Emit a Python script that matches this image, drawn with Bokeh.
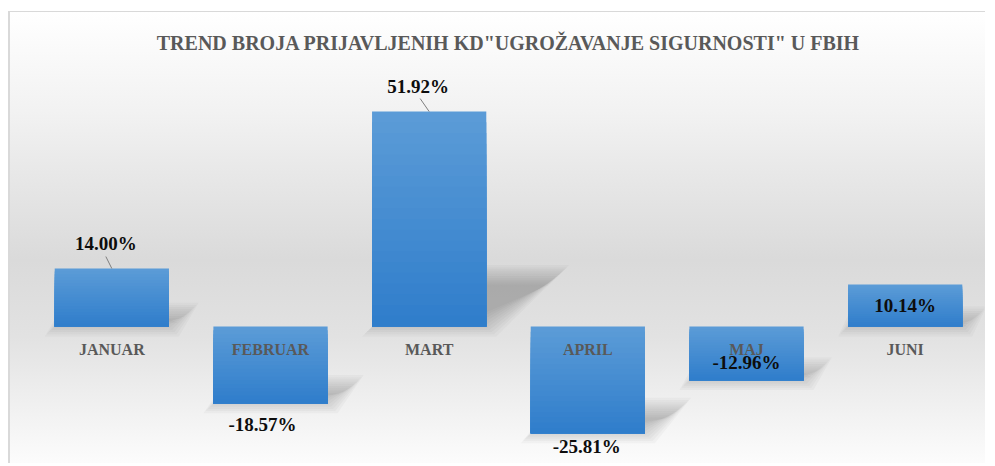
from bokeh.plotting import figure
from bokeh.models import ColumnDataSource, LabelSet, Label, Range1d
from bokeh.transform import dodge
from bokeh.embed import file_html
from bokeh.resources import INLINE
from bokeh.core.properties import value

# ---------------- data ----------------
months = ["JANUAR", "FEBRUAR", "MART", "APRIL", "MAJ", "JUNI"]
trend = [14.00, -18.57, 51.92, -25.81, -12.96, 10.14]
value_labels = ["14.00%", "-18.57%", "51.92%", "-25.81%", "-12.96%", "10.14%"]
title_text = 'TREND BROJA PRIJAVLJENIH KD"UGROŽAVANJE SIGURNOSTI" U FBIH'

# ---------------- label placement (screen px) ----------------
label_dx = [-6, -8, -11, -1, 0, 0]
label_dy = [25, -21, 25, -13, 18, -21]
leader_dx = [-6, None, -9, None, None, None]
leader_dy = [12, None, 13, None, None, None]

# ---------------- geometry ----------------
CW, CH = 977, 452
ML, MR = 22, 3
FRAME_W = CW - ML - MR
CAT_PX = FRAME_W / len(months)
PX = 4.14          # px per percentage point
ZERO_FROM_TOP = 314
y_end = ZERO_FROM_TOP / PX
y_start = -(CH - ZERO_FROM_TOP) / PX
BAR_W = 0.72

FONT = "Liberation Serif"

p = figure(x_range=months, y_range=Range1d(y_start, y_end),
           width=CW, height=CH, output_backend="svg", toolbar_location=None,
           x_axis_location=None, y_axis_location=None,
           min_border_left=ML, min_border_right=MR, min_border_top=0, min_border_bottom=0)
p.grid.visible = False
p.outline_line_color = None
p.background_fill_color = None
p.border_fill_color = None
p.styles = {
    "background": "linear-gradient(to bottom, #ffffff 0%, #f2f2f2 22%, #dadada 55%, #e2e2e2 72%, #fcfcfc 100%)",
    "border-top": "1px solid #d9d9d9",
    "border-left": "2px solid #d9d9d9",
    "margin-top": "11px",
    "margin-left": "8px",
}

# soft perspective shadows behind the bars (layered for blur)
LAYERS = 10
for j in range(LAYERS):
    o = (j - (LAYERS - 1) / 2) * 2.2   # px outset
    xs, ys = [], []
    for i, v in enumerate(trend):
        h = abs(v)
        yb = min(0.0, v)
        dy = 0.24 * h
        dx = 0.34 * h * PX / CAT_PX
        x0 = i + 0.5 - BAR_W / 2
        x1 = i + 0.5 + BAR_W / 2
        ox = o / CAT_PX
        oy = o / PX
        xs.append([x0 - ox, x1 + ox, x1 + dx + ox, x0 + dx - ox])
        ys.append([yb - oy, yb - oy, yb + dy + oy, yb + dy + oy])
    p.patches(xs=xs, ys=ys, fill_color="#555555", fill_alpha=0.04, line_color=None)

# bars drawn as gradient bands (light at top, dark at bottom), overlapping to avoid seams
N = 20
def lerp(c1, c2, t):
    return "#%02x%02x%02x" % tuple(int(round(a + (b - a) * t)) for a, b in zip(c1, c2))
top_c = (0x5c, 0x9c, 0xd7)
bot_c = (0x2f, 0x7d, 0xcb)
for k in range(N):
    tops, bots = [], []
    for v in trend:
        if v >= 0:
            tops.append(v * (1 - k / N)); bots.append(0.0)
        else:
            tops.append(v * k / N); bots.append(v)
    src = ColumnDataSource(dict(m=months, top=tops, bottom=bots))
    p.vbar(x="m", top="top", bottom="bottom", width=BAR_W, source=src,
           fill_color=lerp(top_c, bot_c, (k + 0.5) / N), line_color=None)

# leader lines
for i, m in enumerate(months):
    if leader_dx[i] is None:
        continue
    s = ColumnDataSource(dict(m=[m], y0=[trend[i]], y1=[trend[i] + leader_dy[i] / PX]))
    p.segment(x0=dodge("m", 0, range=p.x_range), y0="y0",
              x1=dodge("m", leader_dx[i] / CAT_PX, range=p.x_range), y1="y1",
              source=s, line_color="#7f7f7f", line_width=1)

src = ColumnDataSource(dict(m=months, v=trend, lab=value_labels, dx=label_dx, dy=label_dy,
                            zero=[0] * len(months)))

# category labels at the zero line
p.add_layout(LabelSet(x="m", y="zero", text="m", source=src, y_offset=-23,
                      text_align="center", text_baseline="middle",
                      text_font=value(FONT), text_font_style="bold",
                      text_font_size="16px", text_color="#595959"))

# value labels
p.add_layout(LabelSet(x="m", y="v", text="lab", source=src, x_offset="dx", y_offset="dy",
                      text_align="center", text_baseline="middle",
                      text_font=value(FONT), text_font_style="bold",
                      text_font_size="19px", text_color="#0d0d0d"))

# title
p.add_layout(Label(x=len(months) / 2, y=284 / PX, text=title_text,
                   text_align="center", text_baseline="middle",
                   text_font=FONT, text_font_style="bold",
                   text_font_size="20px", text_color="#595959"))

open("out.html", "w").write(file_html(p, INLINE))
